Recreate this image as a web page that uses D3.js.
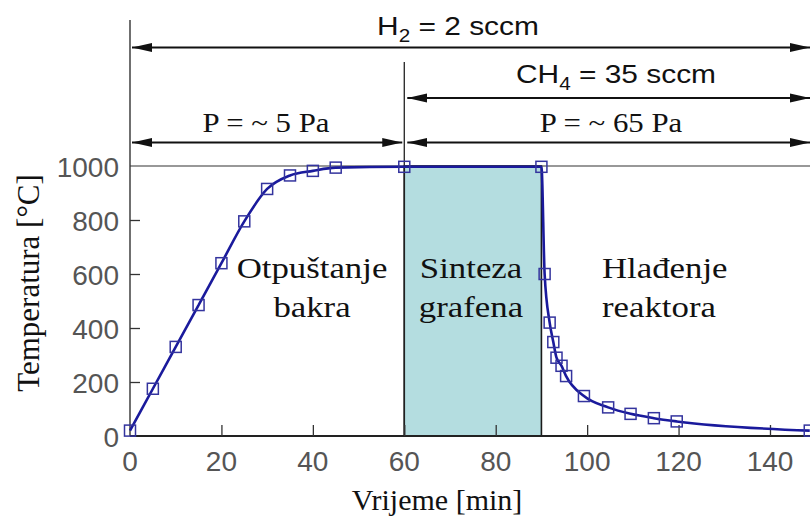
<!DOCTYPE html>
<html><head><meta charset="utf-8">
<script src="https://cdn.jsdelivr.net/npm/d3@7"></script>
<style>
html,body{margin:0;padding:0;background:#fff;}
svg{display:block;}
</style></head>
<body>
<svg id="chart" width="810" height="520"></svg>
<script>
// ---- data ----
const heatTime = [0, 5, 10, 15, 20, 25, 30, 35, 40, 45, 60];
const heatTemp = [20, 175, 330, 485, 640, 795, 915, 965, 982, 994, 997];
const coolTime = [90, 90.7, 91.8, 92.6, 93.3, 94.4, 95.4, 99.3, 104.6, 109.5, 114.6, 119.6, 148.7];
const coolTemp = [997, 600, 420, 348, 290, 260, 222, 148, 106, 82, 66, 54, 20];
const xTicks = [0, 20, 40, 60, 80, 100, 120, 140];
const yTicks = [0, 200, 400, 600, 800, 1000];
const phaseNames = [["Otpuštanje", "bakra"], ["Sinteza", "grafena"], ["Hlađenje", "reaktora"]];
const synthesis = [60, 90];
const gasH2 = {label: "H", sub: "2", rest: " = 2 sccm", from: 0, to: 150};
const gasCH4 = {label: "CH", sub: "4", rest: " = 35 sccm", from: 60, to: 150};
const pressures = [{label: "P = ~ 5 Pa", from: 0, to: 60}, {label: "P = ~ 65 Pa", from: 60, to: 150}];
const xLabel = "Vrijeme [min]";
const yLabel = "Temperatura [°C]";

const svg = d3.select("#chart");
const x = d3.scaleLinear().domain([0, 150]).range([130, 815.7]);
const y = d3.scaleLinear().domain([0, 1000]).range([436, 166]);

const serif = "'Liberation Serif','Times New Roman',serif";
const sans = "'Liberation Sans',Arial,sans-serif";
const tickFont = "'Liberation Sans Narrow','Arial Narrow','Liberation Sans',sans-serif";

// arrow marker defs
const defs = svg.append("defs");
defs.append("marker").attr("id", "ah").attr("viewBox", "0 0 20 10")
  .attr("refX", 20).attr("refY", 5).attr("markerWidth", 20).attr("markerHeight", 10)
  .attr("markerUnits", "userSpaceOnUse").attr("orient", "auto-start-reverse")
  .append("path").attr("d", "M0,0.5 L20,5 L0,9.5 Z").attr("fill", "#111");

// synthesis rectangle
svg.append("rect")
  .attr("x", x(synthesis[0])).attr("y", y(1000))
  .attr("width", x(synthesis[1]) - x(synthesis[0])).attr("height", y(0) - y(1000))
  .attr("fill", "#b4dde0").attr("stroke", "#1a1a1a").attr("stroke-width", 1.6);

// axes lines
svg.append("line").attr("x1", x(0)).attr("x2", x(0)).attr("y1", 20).attr("y2", y(0))
  .attr("stroke", "#222").attr("stroke-width", 1.3);
svg.append("line").attr("x1", x(0)).attr("x2", 810).attr("y1", y(0)).attr("y2", y(0))
  .attr("stroke", "#222").attr("stroke-width", 1.8);
svg.append("line").attr("x1", x(0)).attr("x2", 810).attr("y1", y(1000)).attr("y2", y(1000))
  .attr("stroke", "#333").attr("stroke-width", 1.2);
svg.append("line").attr("x1", x(60)).attr("x2", x(60)).attr("y1", 62).attr("y2", y(0))
  .attr("stroke", "#222").attr("stroke-width", 1.3);

// ticks (inward)
const xAxis = d3.axisTop(x).tickValues(xTicks.filter(v => v > 0)).tickSize(11).tickFormat("");
const gx = svg.append("g").attr("transform", `translate(0,${y(0)})`).call(xAxis);
gx.select(".domain").remove();
gx.selectAll("line").attr("stroke", "#333").attr("stroke-width", 1.3);
const yAxis = d3.axisRight(y).tickValues(yTicks.filter(v => v > 0 && v < 1000)).tickSize(10).tickFormat("");
const gy = svg.append("g").attr("transform", `translate(${x(0)},0)`).call(yAxis);
gy.select(".domain").remove();
gy.selectAll("line").attr("stroke", "#333").attr("stroke-width", 1.3);

// tick labels
svg.append("g").selectAll("text").data(xTicks).join("text")
  .attr("x", d => x(d)).attr("y", y(0) + 35).attr("text-anchor", "middle")
  .attr("font-family", tickFont).attr("font-size", 28).attr("fill", "#555").text(d => d);
svg.append("g").selectAll("text").data(yTicks).join("text")
  .attr("x", x(0) - 11).attr("y", d => y(d) + 11).attr("text-anchor", "end")
  .attr("font-family", tickFont).attr("font-size", 28).attr("fill", "#555").text(d => d);

// axis titles
svg.append("text").attr("x", 437).attr("y", 510).attr("text-anchor", "middle")
  .attr("font-family", serif).attr("font-size", 30).attr("fill", "#111").text(xLabel);
svg.append("text").attr("transform", "translate(39,283) rotate(-90)").attr("text-anchor", "middle")
  .attr("font-family", serif).attr("font-size", 31).attr("fill", "#111").text(yLabel);

// curves
const pts = heatTime.map((t, i) => [t, heatTemp[i]]).concat(coolTime.map((t, i) => [t, coolTemp[i]]));
const line = d3.line().x(d => x(d[0])).y(d => y(d[1])).curve(d3.curveMonotoneX);
svg.append("path").datum(pts).attr("d", line).attr("fill", "none")
  .attr("stroke", "#1a1a9c").attr("stroke-width", 2.6);
svg.append("g").selectAll("rect").data(pts).join("rect")
  .attr("x", d => x(d[0]) - 5.5).attr("y", d => y(d[1]) - 5.5).attr("width", 11).attr("height", 11)
  .attr("fill", "none").attr("stroke", "#34349e").attr("stroke-width", 1.5);

// phase labels
const phaseX = [312, 471, 602];
const phaseAnchor = ["middle", "middle", "start"];
phaseNames.forEach((lines, i) => {
  lines.forEach((s, j) => {
    svg.append("text")
      .attr("transform", `translate(${phaseX[i]},${278 + j * 39}) scale(1.2,1)`)
      .attr("text-anchor", phaseAnchor[i])
      .attr("font-family", serif).attr("font-size", 29).attr("fill", "#111").text(s);
  });
});

// arrows
function arrow(x1, x2, yy) {
  svg.append("line").attr("x1", x1).attr("x2", x2).attr("y1", yy).attr("y2", yy)
    .attr("stroke", "#111").attr("stroke-width", 2)
    .attr("marker-start", "url(#ah)").attr("marker-end", "url(#ah)");
}
arrow(x(gasH2.from) + 2, 810, 47.5);
arrow(x(gasCH4.from) + 3, 810, 98);
pressures.forEach(p => arrow(x(p.from) + (p.from === 0 ? 2 : 3), p.to >= 150 ? 810 : x(p.to) - 2, 142.5));

function gasText(g, cx, by) {
  const t = svg.append("text")
    .attr("transform", `translate(${cx},${by}) scale(1.15,1)`)
    .attr("text-anchor", "middle").attr("font-family", sans).attr("font-size", 26).attr("fill", "#111");
  t.append("tspan").text(g.label);
  t.append("tspan").attr("font-size", 18).attr("dy", 7).text(g.sub);
  t.append("tspan").attr("dy", -7).text(g.rest);
}
gasText(gasH2, 458, 35);
gasText(gasCH4, 616, 83);

pressures.forEach((p, i) => {
  const cx = [266, 611][i];
  svg.append("text")
    .attr("transform", `translate(${cx},132) scale(1.1,1)`)
    .attr("text-anchor", "middle").attr("font-family", serif).attr("font-size", 28)
    .attr("fill", "#111").text(p.label);
});
</script>
</body></html>
